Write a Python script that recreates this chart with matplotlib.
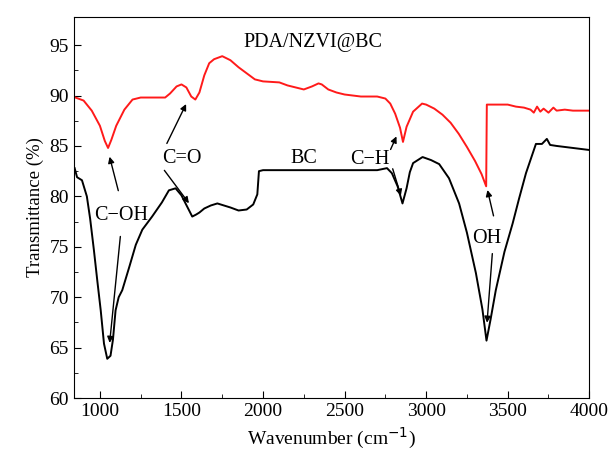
import numpy as np
import matplotlib.pyplot as plt

# PDA/NZVI@BC spectrum (red)
red_x = [850, 900, 950, 1000, 1030, 1050, 1070, 1100, 1150, 1200, 1250, 1300, 1400,
         1430, 1470, 1500, 1530, 1560, 1585, 1610, 1640, 1670, 1700, 1750, 1800, 1850,
         1900, 1950, 2000, 2100, 2150, 2200, 2250, 2300, 2340, 2360, 2400, 2450, 2500,
         2550, 2600, 2650, 2700, 2750, 2780, 2810, 2840, 2858, 2880, 2920, 2975, 3000,
         3050, 3100, 3150, 3200, 3250, 3300, 3340, 3368, 3372, 3450, 3500, 3550, 3600,
         3640, 3660, 3680, 3700, 3720, 3750, 3780, 3800, 3850, 3900, 4000]
red_y = [89.8, 89.5, 88.5, 87.0, 85.5, 84.8, 85.6, 87.0, 88.6, 89.6, 89.8, 89.8, 89.8,
         90.2, 90.9, 91.1, 90.8, 89.9, 89.6, 90.3, 92.0, 93.2, 93.6, 93.9, 93.5, 92.8,
         92.2, 91.6, 91.4, 91.3, 91.0, 90.8, 90.6, 90.9, 91.2, 91.1, 90.6, 90.3, 90.1,
         90.0, 89.9, 89.9, 89.9, 89.7, 89.2, 88.2, 86.8, 85.4, 86.9, 88.4, 89.2, 89.1,
         88.7, 88.1, 87.3, 86.2, 84.9, 83.5, 82.2, 81.0, 89.1, 89.1, 89.1, 88.9, 88.8,
         88.6, 88.3, 88.9, 88.4, 88.7, 88.3, 88.8, 88.5, 88.6, 88.5, 88.5]

# BC spectrum (black)
bc_x = [845, 860, 890, 920, 940, 963, 985, 1005, 1025, 1045, 1065, 1080, 1096, 1115,
        1137, 1180, 1220, 1260, 1320, 1380, 1423, 1464, 1500, 1525, 1566, 1590, 1610,
        1640, 1680, 1720, 1760, 1800, 1850, 1900, 1940, 1965, 1975, 2000, 2250, 2500,
        2700, 2760, 2790, 2825, 2855, 2880, 2900, 2920, 2978, 3030, 3080, 3140, 3202,
        3250, 3305, 3345, 3370, 3395, 3427, 3480, 3530, 3570, 3612, 3673, 3710,
        3740, 3760, 3800, 3900, 4000]
bc_y = [82.8, 81.9, 81.6, 80.0, 77.8, 74.7, 71.5, 68.7, 65.4, 63.9, 64.2, 65.8, 68.7, 70.0,
        70.7, 73.0, 75.2, 76.7, 78.0, 79.4, 80.6, 80.8, 80.1, 79.3, 78.0, 78.2, 78.4,
        78.8, 79.1, 79.3, 79.1, 78.9, 78.6, 78.7, 79.2, 80.2, 82.5, 82.6, 82.6, 82.6,
        82.6, 82.8, 82.3, 81.0, 79.3, 80.8, 82.4, 83.3, 83.9, 83.6, 83.2, 81.8, 79.3,
        76.4, 72.4, 68.8, 65.7, 67.8, 70.7, 74.5, 77.3, 79.8, 82.3, 85.2, 85.2,
        85.7, 85.1, 85.0, 84.8, 84.6]

plt.rcParams['font.family'] = ['Liberation Serif', 'DejaVu Serif']

fig = plt.figure(figsize=(6.1, 4.55), dpi=100)
ax = fig.add_axes([0.121, 0.125, 0.845, 0.838])

ax.plot(red_x, red_y, color='#ff1a1a', lw=1.4)
ax.plot(bc_x, bc_y, color='black', lw=1.4)

ax.set_xlim(840, 4000)
ax.set_ylim(60, 97.8)
ax.set_xticks(np.arange(1000, 4001, 500))
ax.set_xticks(np.arange(1250, 4000, 500), minor=True)
ax.set_yticks(np.arange(60, 96, 5))
ax.set_yticks(np.arange(62.5, 96, 5), minor=True)
ax.tick_params(direction='in', labelsize=14, top=False, right=False)
ax.tick_params(which='major', length=5)
ax.tick_params(which='minor', direction='in', length=3)
ax.set_xlabel('Wavenumber (cm$^{-1}$)', fontsize=14)
ax.set_ylabel('Transmittance (%)', fontsize=13.5)

txt = dict(fontsize=14.5, ha='center', va='center')
ax.text(2307, 95.3, 'PDA/NZVI@BC', **txt)
ax.text(2250, 83.8, 'BC', **txt)
ax.text(1500, 83.8, 'C=O', **txt)
ax.text(1130, 78.1, 'C\u2212OH', **txt)
ax.text(2656, 83.7, 'C\u2212H', **txt)
ax.text(3374, 75.8, 'OH', **txt)

arr = dict(arrowstyle='-|>', color='black', lw=1.0, mutation_scale=9)
arrows = [
    ((1117, 80.3), (1055, 84.2)),
    ((1127, 76.3), (1058, 65.2)),
    ((1403, 85.0), (1536, 89.4)),
    ((1385, 82.8), (1556, 79.1)),
    ((2775, 84.4), (2825, 86.2)),
    ((2790, 83.0), (2850, 79.8)),
    ((3417, 77.8), (3372, 80.9)),
    ((3407, 74.6), (3372, 67.2)),
]
for start, end in arrows:
    ax.annotate('', xy=end, xytext=start, arrowprops=arr)

fig.savefig('out.png')
